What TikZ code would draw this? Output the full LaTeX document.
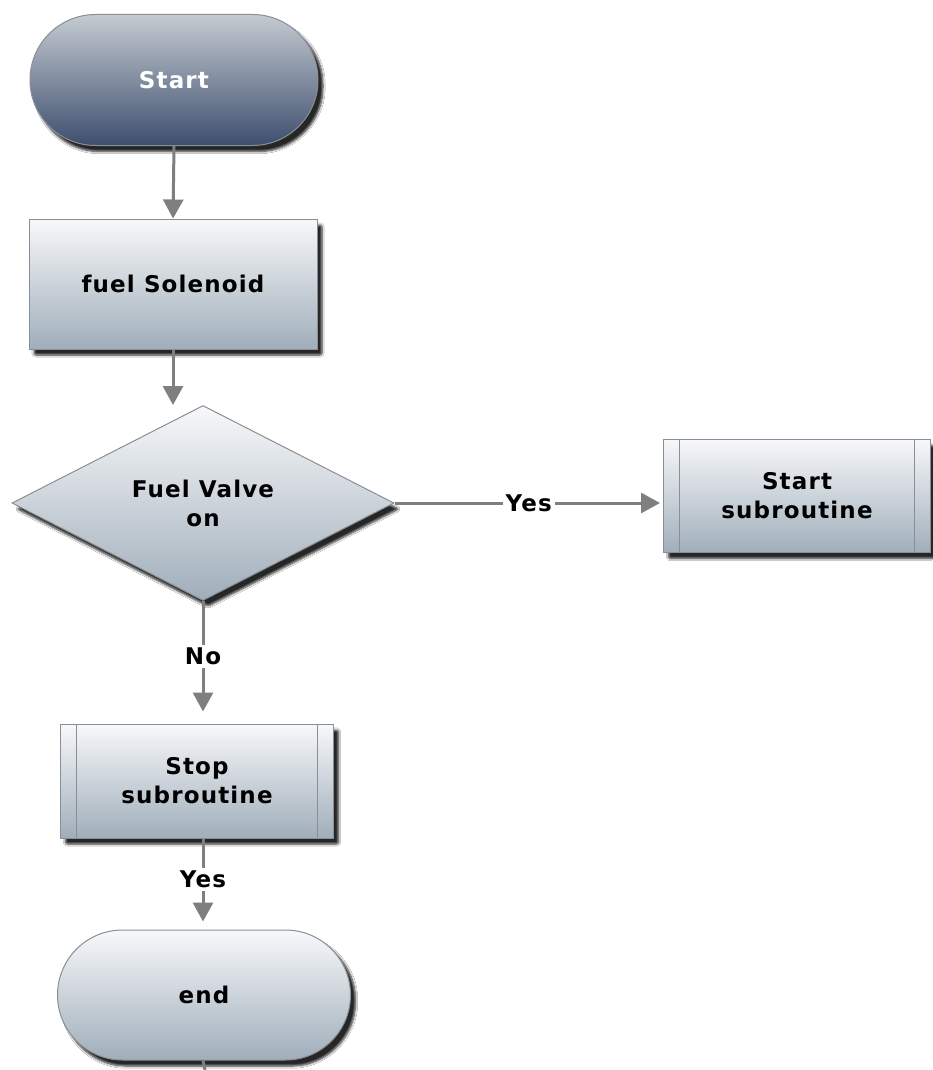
\documentclass[tikz,border=0pt]{standalone}
\usepackage{fontspec}
\setmainfont{DejaVu Sans}
\newfontfamily\wfont[LetterSpace=5]{DejaVu Sans}
\usetikzlibrary{shapes.geometric,shapes.misc,arrows.meta,shadows.blur}
\definecolor{stTop}{HTML}{C4CBD1}
\definecolor{stBot}{HTML}{3E4E6E}
\definecolor{bxTop}{HTML}{F7F8FA}
\definecolor{bxBot}{HTML}{A0AEBA}
\definecolor{bord}{HTML}{8A8F95}
\definecolor{arr}{HTML}{7F7F7F}
\tikzset{
  shadowed/.style={blur shadow={shadow xshift=5pt,shadow yshift=-6pt,shadow blur steps=6,shadow blur extra rounding=2pt,shadow opacity=85}},
  base/.style={draw=bord,line width=1pt,top color=bxTop,bottom color=bxBot,shadowed,font=\wfont\bfseries\fontsize{23}{29}\selectfont,align=center,inner sep=0pt},
  term/.style={base,rounded rectangle,minimum width=288pt,minimum height=131pt},
  startterm/.style={term,top color=stTop,bottom color=stBot,text=white},
  procbox/.style={base,rectangle,minimum width=288pt,minimum height=130pt},
  subbox/.style={base,rectangle,
    path picture={\draw[bord,line width=0.8pt] ([xshift=16pt]path picture bounding box.north west) -- ([xshift=16pt]path picture bounding box.south west);
                  \draw[bord,line width=0.8pt] ([xshift=-16pt]path picture bounding box.north east) -- ([xshift=-16pt]path picture bounding box.south east);}},
  decision/.style={base,diamond,minimum width=382pt,minimum height=195pt,aspect=1.96},
  conn/.style={draw=arr,line width=3pt,-{Triangle[width=20pt,length=19pt]}},
  plain/.style={draw=arr,line width=3pt},
  lbl/.style={fill=white,font=\wfont\bfseries\fontsize{23}{27}\selectfont,inner sep=3pt}
}
\begin{document}
\begin{tikzpicture}[x=1pt,y=-1pt]
\useasboundingbox[fill=white] (0,0) rectangle (932,1070);
\node[startterm] (start) at (174,80) {Start};
\node[procbox] (fuel) at (173,284) {fuel Solenoid};
\node[decision] (valve) at (203,503) {Fuel Valve\\on};
\node[subbox,minimum width=267pt,minimum height=113pt] (ssub) at (797,496) {Start\\subroutine};
\node[subbox,minimum width=273pt,minimum height=114pt] (stsub) at (197,781) {Stop\\subroutine};
\node[term,minimum width=293pt,minimum height=130pt] (end) at (204,995) {end};
\coordinate (out) at (205,1070);

\draw[conn] (start.south) -- (fuel.north);
\draw[conn] (fuel.south) -- (fuel.south |- valve.north);
\draw[conn,shorten >=3pt] (valve.east) -- node[lbl]{Yes} (ssub.west |- valve.east);
\draw[conn,shorten >=12pt] (valve.south) -- node[lbl,pos=0.45]{No} (valve.south |- stsub.north);
\draw[conn,shorten >=8pt] (stsub.south -| valve.south) -- node[lbl,pos=0.45]{Yes} (valve.south |- end.north);
\draw[plain] (valve.south |- end.south) -- (out);
\end{tikzpicture}
\end{document}
